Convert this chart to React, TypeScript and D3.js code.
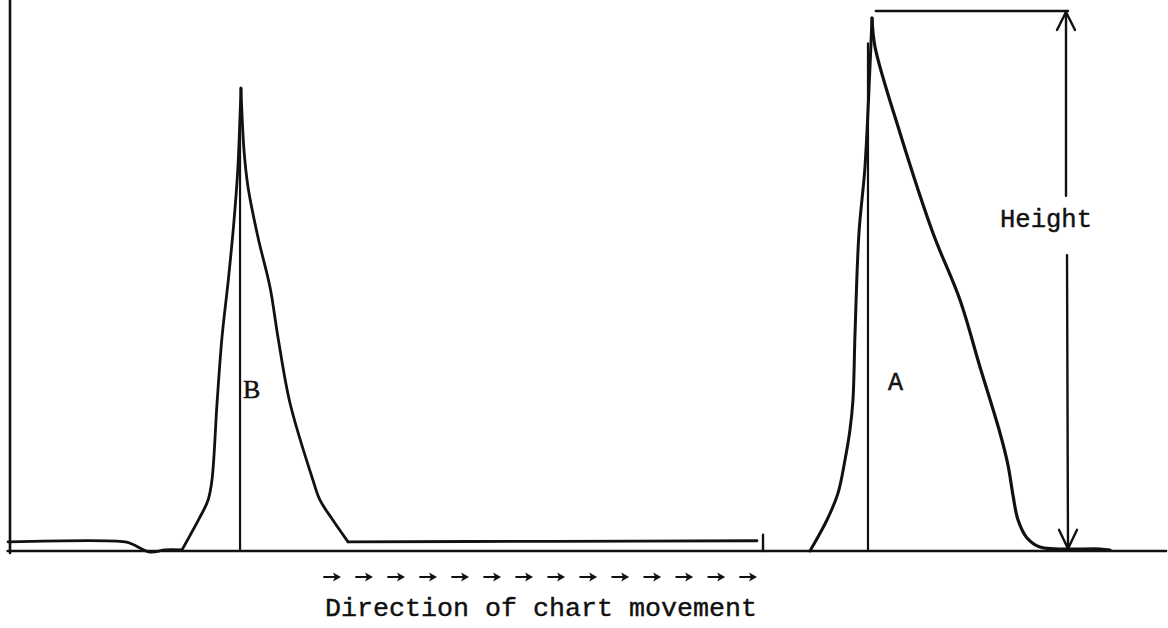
import React from "react";
import * as d3 from "d3";

// chart distance (0-100) and detector response (0-100)
const leadTime = [-0.17, 9.95, 10.55, 12.11, 13.41, 14.88];
const leadResp = [1.7, 1.7, 1.3, -0.2, 0.2, 0.2];

const peakBRiseTime = [14.88, 16.44, 17.13, 17.47, 17.91, 18.34, 18.9, 19.35, 19.7, 19.98];
const peakBRiseResp = [0.2, 6.3, 9.4, 13.1, 27.4, 39.6, 50.5, 60.5, 70.5, 85.7];
const peakBFallTime = [19.98, 20.24, 20.59, 21.45, 22.49, 23.18, 24.22, 26.21, 26.82, 27.94, 29.24];
const peakBFallResp = [85.7, 74.3, 67.4, 58.1, 48.9, 39.6, 27.4, 13.1, 9.4, 5.7, 1.7];
const baselineTime = [29.24, 47, 64.62];
const baselineResp = [1.7, 1.8, 1.9];

const peakARiseTime = [69.2, 70.67, 71.63, 72.23, 72.66, 72.92, 73.1, 73.44, 73.96, 74.39, 74.57];
const peakARiseResp = [0, 5.74, 10.74, 16.85, 22.41, 27.96, 40.37, 58.89, 71.11, 89.63, 98.7];
const peakAFallTime = [74.57, 74.83, 76.99, 79.84, 82.18, 83.91, 85.64, 86.33, 86.76, 87.2, 87.98, 89.1, 94.29, 95.16];
const peakAFallResp = [98.7, 93.33, 77.41, 58.89, 46.48, 34.07, 21.85, 15.93, 10.37, 5.74, 2.41, 0.74, 0.37, 0.19];

// retention markers
const markerNames = ["B", "A"];
const markerTime = [19.9, 74.22];
const markerTop = [80, 94];
const labelTime = [20.15, 75.95];
const labelResp = [28.3, 29.8];

const injectTick = 65.14;
const heightTop = 100;
const heightStart = 74.9;
const heightArrow = 91.35;

const arrowTimes = [27.85, 30.62, 33.39, 36.16, 38.93, 41.7, 44.47, 47.24, 50.01, 52.78, 55.55, 58.32, 61.09, 63.84];

const W = 1168;
const H = 628;

const x = d3.scaleLinear().domain([0, 100]).range([10, 1166]);
const y = d3.scaleLinear().domain([0, 100]).range([551, 11]);

const line = d3
  .line<[number, number]>()
  .x((d) => x(d[0]))
  .y((d) => y(d[1]))
  .curve(d3.curveCatmullRom.alpha(0.5));

const zip = (a: number[], b: number[]) => a.map((v, i) => [v, b[i]] as [number, number]);

const segments = [
  { key: "lead", t: leadTime, r: leadResp, w: 2.8 },
  { key: "bRise", t: peakBRiseTime, r: peakBRiseResp, w: 2.8 },
  { key: "bFall", t: peakBFallTime, r: peakBFallResp, w: 2.8 },
  { key: "base", t: baselineTime, r: baselineResp, w: 2.8 },
  { key: "aRise", t: peakARiseTime, r: peakARiseResp, w: 3 },
  { key: "aFall", t: peakAFallTime, r: peakAFallResp, w: 3.2 },
];

const App = () => {
  const ax = x(heightArrow);
  const mono = "'Liberation Mono', 'DejaVu Sans Mono', monospace";

  return (
    <svg width={W} height={H} style={{ position: "absolute", left: 0, top: 0, background: "#fff" }}>
      <g stroke="#111" fill="none" strokeLinecap="round" strokeLinejoin="round">
        {/* axes */}
        <line x1={x(0)} x2={x(0)} y1={y(0) + 2} y2={0} strokeWidth={2.6} />
        <line x1={x(-0.2)} x2={x(100)} y1={y(0)} y2={y(0)} strokeWidth={2.6} />

        {/* recorder trace */}
        {segments.map((s) => (
          <path key={s.key} d={line(zip(s.t, s.r)) ?? ""} strokeWidth={s.w} />
        ))}
        <line x1={x(injectTick)} x2={x(injectTick)} y1={y(0)} y2={y(3)} strokeWidth={2.4} />

        {/* retention markers */}
        {markerTime.map((t, i) => (
          <line key={markerNames[i]} x1={x(t)} x2={x(t)} y1={y(0)} y2={y(markerTop[i])} strokeWidth={2.2} />
        ))}

        {/* height bracket */}
        <line x1={x(heightStart)} x2={ax + 2} y1={y(heightTop)} y2={y(heightTop)} strokeWidth={2.4} />
        <line x1={ax} x2={ax} y1={y(heightTop)} y2={y(65.8)} strokeWidth={2.4} />
        <path d={`M${ax - 9},${y(heightTop) + 19} L${ax},${y(heightTop) + 1} L${ax + 9},${y(heightTop) + 19}`} strokeWidth={2.4} />
        <line x1={ax + 1} x2={ax + 2} y1={y(54.8)} y2={y(0.4)} strokeWidth={2.4} />
        <path d={`M${ax - 7},${y(0.4) - 19} L${ax + 2},${y(0.4)} L${ax + 11},${y(0.4) - 19}`} strokeWidth={2.4} />

        {/* direction arrows */}
        {arrowTimes.map((t) => (
          <line key={t} x1={x(t) - 8} x2={x(t) + 4} y1={577} y2={577} strokeWidth={1.8} />
        ))}
      </g>
      <g fill="#111" stroke="none">
        {arrowTimes.map((t) => (
          <path key={t} d={`M${x(t) + 9},577 L${x(t) + 1},572.5 L${x(t) + 3},577 L${x(t) + 1},581.5 Z`} />
        ))}
      </g>

      {markerNames.map((n, i) => (
        <text
          key={n}
          x={x(labelTime[i])}
          y={y(labelResp[i])}
          fontFamily={n === "B" ? "'Liberation Serif', serif" : mono}
          fontSize={n === "B" ? 26 : 25}
          fill="#111"
          stroke="#111"
          strokeWidth={0.5}
        >
          {n}
        </text>
      ))}
      <text x={1000} y={227} fontFamily={mono} fontSize={25} fill="#111" stroke="#111" strokeWidth={0.4} textLength={92} lengthAdjust="spacingAndGlyphs">
        Height
      </text>
      <text x={325} y={616} fontFamily={mono} fontSize={26} fill="#111" stroke="#111" strokeWidth={0.4} textLength={432} lengthAdjust="spacingAndGlyphs">
        Direction of chart movement
      </text>
    </svg>
  );
};

export default App;
